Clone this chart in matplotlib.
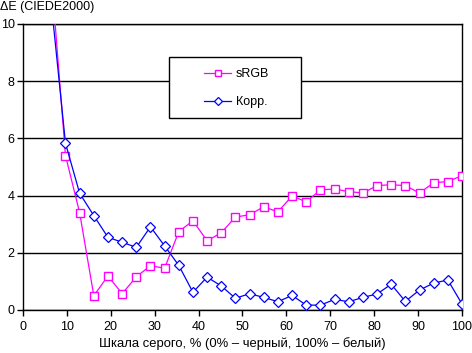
import numpy as np
import matplotlib.pyplot as plt
from matplotlib.patches import Rectangle

plt.rcParams['font.family'] = ['Liberation Sans', 'DejaVu Sans']

# --- Data ---
# grey levels: steps of 100/31, starting from the 3rd step (earlier points are off-scale)
steps = list(range(2, 32))
srgb = [11.7, 5.40, 3.40, 0.50, 1.19, 0.57, 1.16, 1.55, 1.46, 2.74, 3.12, 2.42,
        2.70, 3.25, 3.33, 3.61, 3.43, 3.99, 3.78, 4.20, 4.23, 4.14, 4.09, 4.35,
        4.38, 4.35, 4.09, 4.45, 4.49, 4.70]
corr = [10.7, 5.83, 4.08, 3.30, 2.54, 2.37, 2.19, 2.91, 2.24, 1.56, 0.62, 1.15,
        0.84, 0.41, 0.57, 0.44, 0.29, 0.51, 0.17, 0.17, 0.37, 0.29, 0.44, 0.56,
        0.90, 0.30, 0.70, 0.94, 1.05, 0.21]
x_ticks = list(range(0, 101, 10))
y_ticks = [0, 2, 4, 6, 8, 10]

x = np.array(steps) * 100 / 31

fig = plt.figure(figsize=(4.72, 3.53), dpi=100)
ax = fig.add_axes([23 / 472, 1 - 310 / 353, 439 / 472, 286 / 353])

ax.plot(x, srgb, color='#FF00FF', lw=0.9, marker='s', ms=6,
        mfc='white', mec='#FF00FF', mew=1.0, label='sRGB', zorder=3)
ax.plot(x, corr, color='#0000FF', lw=0.9, marker='D', ms=5,
        mfc='white', mec='#0000FF', mew=0.9, label='Корр.', zorder=3)

ax.set_xlim(0, 100)
ax.set_ylim(0, 10)
ax.set_xticks(x_ticks)
ax.set_yticks(y_ticks)
ax.yaxis.grid(True, color='black', lw=1)
ax.set_axisbelow(True)
for s in ['left', 'bottom', 'right', 'top']:
    ax.spines[s].set_linewidth(1)
ax.tick_params(axis='both', direction='out', length=4, width=1, labelsize=9)
ax.tick_params(axis='x', pad=4)
ax.tick_params(axis='y', pad=2)

ax.set_xlabel('Шкала серого, % (0% – черный, 100% – белый)', fontsize=9.4, labelpad=3)
fig.text(0.0, 1 - 7 / 353, 'ΔE (CIEDE2000)', fontsize=9, ha='left', va='center')

# legend box (Excel style: handles sit well inside the frame)
ax.add_patch(Rectangle((0.3326, 0.6713), 0.3007, 0.2133, transform=ax.transAxes,
                       facecolor='white', edgecolor='black', lw=1, zorder=4))
leg = ax.legend(loc='center left', bbox_to_anchor=((204 - 23) / 439, 0.776),
                borderaxespad=0, borderpad=0, fontsize=9, frameon=False,
                handlelength=2.16, handletextpad=0.4, labelspacing=1.3,
                markerscale=0.8)
leg.set_zorder(5)

fig.savefig('out.png', dpi=100)
